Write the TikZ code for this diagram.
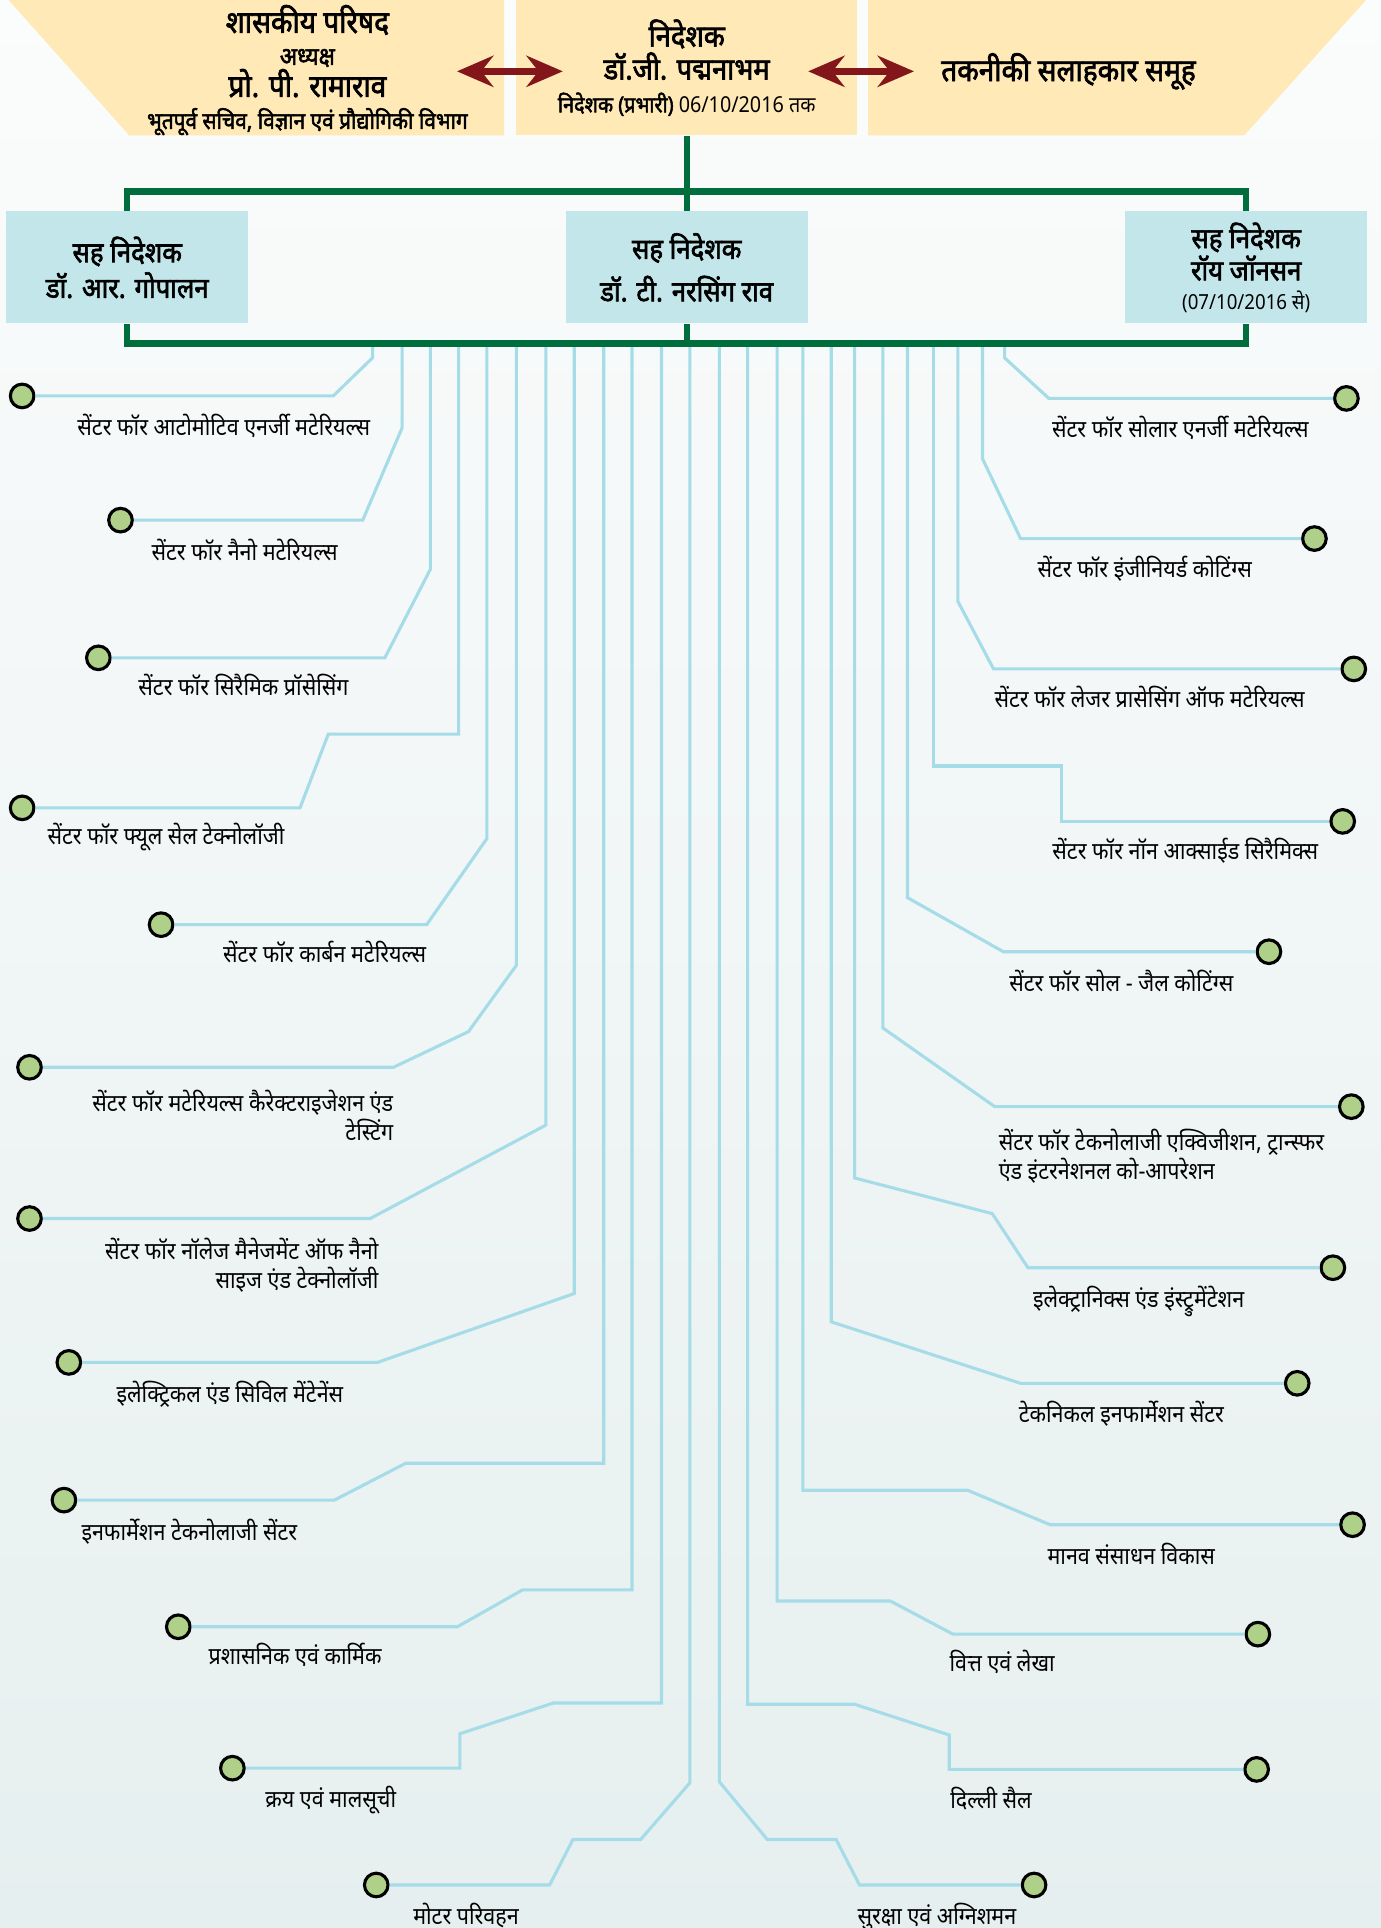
\documentclass[tikz,border=0pt]{standalone}
\usepackage{fontspec}
\setmainfont{Noto Sans}[Script=Devanagari,FakeStretch=0.9,BoldFont=Noto Sans,BoldFeatures={FakeBold=2.2}]
\usetikzlibrary{arrows.meta,calc,positioning}

\definecolor{paper}{RGB}{255,233,183}
\definecolor{cyanbox}{RGB}{194,230,234}
\definecolor{trunkgreen}{RGB}{0,110,60}
\definecolor{wire}{RGB}{165,220,232}
\definecolor{dotgreen}{RGB}{174,208,136}
\definecolor{linkred}{RGB}{130,22,26}

\begin{document}
\begin{tikzpicture}[x=0.025cm,y=-0.025cm,
    yellowbox/.style={fill=paper,inner sep=0pt,align=center},
    assoc/.style={fill=cyanbox,minimum width=4.925cm,minimum height=2.275cm,align=center,inner sep=0pt,font=\bfseries\fontsize{16.5}{20.6}\selectfont},
    trunk/.style={draw=trunkgreen,line width=3.6pt},
    branch/.style={draw=wire,line width=1.8pt},
    unitdot/.style={circle,draw=black,line width=1.8pt,fill=dotgreen,minimum size=0.48cm,inner sep=0pt},
    lbl/.style={font=\fontsize{13.8}{16.7}\selectfont,inner sep=0pt},
    twoway/.style={draw=linkred,line width=3.8pt,{Stealth[length=21pt,width=18pt,inset=7pt]}-{Stealth[length=21pt,width=18pt,inset=7pt]}}]

\useasboundingbox (0,0) rectangle (1123,1568);
\shade[top color={rgb,255:red,251;green,252;blue,252},bottom color={rgb,255:red,230;green,239;blue,239}] (0,0) rectangle (1123,1568);

% top row
\fill[paper] (7,0) -- (410,0) -- (410,110) -- (105,110) -- cycle;
\node[align=center,inner sep=0pt,font=\bfseries\fontsize{18}{18.5}\selectfont] (council) at (250,57)
  {शासकीय परिषद\\{\fontsize{14.5}{18.5}\selectfont अध्यक्ष}\\प्रो. पी. रामाराव\\{\fontsize{13.4}{18.5}\selectfont भूतपूर्व सचिव, विज्ञान एवं प्रौद्योगिकी विभाग}};
\node[yellowbox,minimum width=6.925cm,minimum height=2.75cm,font=\bfseries\fontsize{17.5}{19}\selectfont] (dir) at (558.5,55)
  {निदेशक\\डॉ.जी. पद्मनाभम\\{\fontsize{12.7}{19}\selectfont निदेशक (प्रभारी) \mdseries 06/10/2016 तक}};
\fill[paper] (706,0) -- (1111,0) -- (1012,110) -- (706,110) -- cycle;
\node[font=\bfseries\fontsize{18}{18}\selectfont] (tag) at (869,58) {तकनीकी सलाहकार समूह};

\draw[twoway] ($(dir.west)+(-48,3)$) -- ($(dir.west)+(38,3)$);
\draw[twoway] ($(dir.east)+(-40,3)$) -- ($(dir.east)+(46,3)$);

% associate directors
\node[assoc] (ad1) at (103.5,217.5) {सह निदेशक\\डॉ. आर. गोपालन};
\node[assoc] (ad2) at (558.5,217.5) {सह निदेशक\\[4pt]डॉ. टी. नरसिंग राव};
\node[assoc] (ad3) at (1013.5,217.5) {सह निदेशक\\[-2pt]रॉय जॉनसन\\[-4pt]{\mdseries\fontsize{12}{14}\selectfont (07/10/2016 से)}};
\path (ad2.south) ++(0,16) coordinate (hbar);

% left centres
\node[unitdot] (dl1) at (18,322) {};
\node[unitdot] (dl2) at (98,423) {};
\node[unitdot] (dl3) at (80,535) {};
\node[unitdot] (dl4) at (18,657) {};
\node[unitdot] (dl5) at (131,752) {};
\node[unitdot] (dl6) at (24,868) {};
\node[unitdot] (dl7) at (24,991) {};
\node[unitdot] (dl8) at (56,1108) {};
\node[unitdot] (dl9) at (52,1220) {};
\node[unitdot] (dl10) at (145,1323) {};
\node[unitdot] (dl11) at (189,1438) {};
\node[unitdot] (dl12) at (306,1533) {};

\node[lbl,anchor=base] (tl1) at (182,354) {सेंटर फॉर आटोमोटिव एनर्जी मटेरियल्स};
\node[lbl,anchor=base] (tl2) at (199,456) {सेंटर फॉर नैनो मटेरियल्स};
\node[lbl,anchor=base] (tl3) at (198,566) {सेंटर फॉर सिरैमिक प्रॉसेसिंग};
\node[lbl,anchor=base] (tl4) at (135,687) {सेंटर फॉर फ्यूल सेल टेक्नोलॉजी};
\node[lbl,anchor=base] (tl5) at (264,783) {सेंटर फॉर कार्बन मटेरियल्स};
\node[lbl,anchor=east,align=right] (tl6) at (320,907) {सेंटर फॉर मटेरियल्स कैरेक्टराइजेशन एंड\\टेस्टिंग};
\node[lbl,anchor=east,align=right] (tl7) at (308,1029) {सेंटर फॉर नॉलेज मैनेजमेंट ऑफ नैनो\\साइज एंड टेक्नोलॉजी};
\node[lbl,anchor=base] (tl8) at (187,1141) {इलेक्ट्रिकल एंड सिविल मेंटेनेंस};
\node[lbl,anchor=base] (tl9) at (154,1253) {इनफार्मेशन टेकनोलाजी सेंटर};
\node[lbl,anchor=base] (tl10) at (240,1354) {प्रशासनिक एवं कार्मिक};
\node[lbl,anchor=base] (tl11) at (269,1470) {क्रय एवं मालसूची};
\node[lbl,anchor=base] (tl12) at (379,1565) {मोटर परिवहन};

% right centres
\node[unitdot] (dr1) at (1095,324) {};
\node[unitdot] (dr2) at (1069,438) {};
\node[unitdot] (dr3) at (1101,544) {};
\node[unitdot] (dr4) at (1092,668) {};
\node[unitdot] (dr5) at (1032,774) {};
\node[unitdot] (dr6) at (1099,900) {};
\node[unitdot] (dr7) at (1084,1031) {};
\node[unitdot] (dr8) at (1055,1125) {};
\node[unitdot] (dr9) at (1100,1240) {};
\node[unitdot] (dr10) at (1023,1329) {};
\node[unitdot] (dr11) at (1022,1439) {};
\node[unitdot] (dr12) at (841,1533) {};

\node[lbl,anchor=base] (tr1) at (960,356) {सेंटर फॉर सोलार एनर्जी मटेरियल्स};
\node[lbl,anchor=base] (tr2) at (931,470) {सेंटर फॉर इंजीनियर्ड कोटिंग्स};
\node[lbl,anchor=base] (tr3) at (935,575) {सेंटर फॉर लेजर प्रासेसिंग ऑफ मटेरियल्स};
\node[lbl,anchor=base] (tr4) at (964,699) {सेंटर फॉर नॉन आक्साईड सिरैमिक्स};
\node[lbl,anchor=base] (tr5) at (912,806) {सेंटर फॉर सोल - जैल कोटिंग्स};
\node[lbl,anchor=west,align=left] (tr6) at (812,940) {सेंटर फॉर टेकनोलाजी एक्विजीशन, ट्रान्स्फर\\एंड इंटरनेशनल को-आपरेशन};
\node[lbl,anchor=base] (tr7) at (926,1063) {इलेक्ट्रानिक्स एंड इंस्ट्रुमेंटेशन};
\node[lbl,anchor=base] (tr8) at (912,1157) {टेकनिकल इनफार्मेशन सेंटर};
\node[lbl,anchor=base] (tr9) at (920,1272) {मानव संसाधन विकास};
\node[lbl,anchor=base] (tr10) at (815,1359) {वित्त एवं लेखा};
\node[lbl,anchor=base] (tr11) at (806,1471) {दिल्ली सैल};
\node[lbl,anchor=base] (tr12) at (762,1565) {सुरक्षा एवं अग्निशमन};

% branches, left
\draw[branch] (dl1) -- (271,322) -- (303,291) -- (303,0 |- hbar);
\draw[branch] (dl2) -- (295,423) -- (327,348) -- (327,0 |- hbar);
\draw[branch] (dl3) -- (313,535) -- (350,463) -- (350,0 |- hbar);
\draw[branch] (dl4) -- (244,657) -- (267,597) -- (373,597) -- (373,0 |- hbar);
\draw[branch] (dl5) -- (347,752) -- (396,682) -- (396,0 |- hbar);
\draw[branch] (dl6) -- (320,868) -- (381,839) -- (420,785) -- (420,0 |- hbar);
\draw[branch] (dl7) -- (301,991) -- (444,915) -- (444,0 |- hbar);
\draw[branch] (dl8) -- (307,1108) -- (467,1052) -- (467,0 |- hbar);
\draw[branch] (dl9) -- (272,1220) -- (330,1190) -- (491,1190) -- (491,0 |- hbar);
\draw[branch] (dl10) -- (372,1323) -- (425,1293) -- (514,1293) -- (514,0 |- hbar);
\draw[branch] (dl11) -- (374,1438) -- (374,1410) -- (450,1385) -- (538,1385) -- (538,0 |- hbar);
\draw[branch] (dl12) -- (447,1533) -- (466,1496) -- (521,1496) -- (561,1450) -- (561,0 |- hbar);

% branches, right
\draw[branch] (dr1) -- (853,324) -- (817,291) -- (817,0 |- hbar);
\draw[branch] (dr2) -- (830,438) -- (799,373) -- (799,0 |- hbar);
\draw[branch] (dr3) -- (808,544) -- (779,489) -- (779,0 |- hbar);
\draw[branch] (dr4) -- (863,668) -- (863,623) -- (759,623) -- (759,0 |- hbar);
\draw[branch] (dr5) -- (816,774) -- (738,730) -- (738,0 |- hbar);
\draw[branch] (dr6) -- (809,900) -- (718,836) -- (718,0 |- hbar);
\draw[branch] (dr7) -- (836,1031) -- (807,987) -- (695,958) -- (695,0 |- hbar);
\draw[branch] (dr8) -- (830,1125) -- (676,1075) -- (676,0 |- hbar);
\draw[branch] (dr9) -- (854,1240) -- (787,1212) -- (653,1212) -- (653,0 |- hbar);
\draw[branch] (dr10) -- (775,1329) -- (724,1302) -- (632,1302) -- (632,0 |- hbar);
\draw[branch] (dr11) -- (772,1439) -- (772,1411) -- (695,1386) -- (608,1386) -- (608,0 |- hbar);
\draw[branch] (dr12) -- (699,1533) -- (680,1496) -- (624,1496) -- (585,1449) -- (585,0 |- hbar);

% green frame
\draw[trunk] (dir.south) -- (ad2.north);
\draw[trunk] (ad1.north) -- ++(0,-16) -| (ad3.north);
\draw[trunk] (ad1.south) -- ++(0,16) -| (ad3.south);
\draw[trunk] (ad2.south) -- (hbar);
\end{tikzpicture}
\end{document}
